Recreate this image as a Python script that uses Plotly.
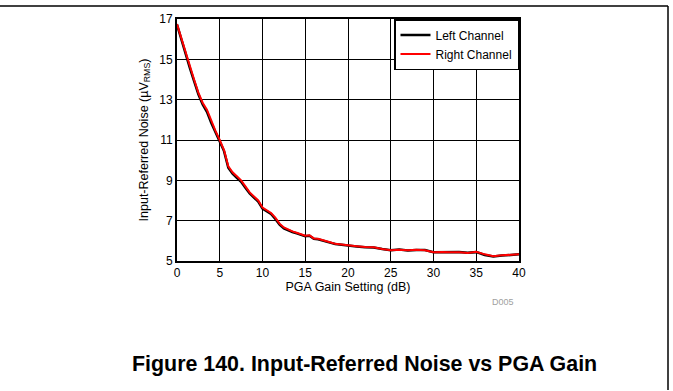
import plotly.graph_objects as go

# PGA gain setting (dB)
gain_db = [0, 0.5, 1, 1.5, 2, 2.5, 3, 3.5, 4, 4.5, 5, 5.5, 6, 6.5, 7, 7.5, 8, 8.5, 9, 9.5,
           10, 10.5, 11, 11.5, 12, 12.5, 13, 13.5, 14, 14.5, 15, 15.5, 16, 16.5, 17, 17.5,
           18, 18.5, 19, 19.5, 20, 21, 22, 23, 24, 25, 26, 27, 28, 29, 30, 31, 32, 33, 34,
           35, 36, 37, 38, 39, 40]

# Input-referred noise (uVrms)
right_channel = [16.75, 16.05, 15.3, 14.65, 14.0, 13.35, 12.85, 12.5, 11.95, 11.45, 11.0, 10.5,
                 9.7, 9.4, 9.2, 9.0, 8.7, 8.4, 8.2, 8.0, 7.65, 7.5, 7.38, 7.15, 6.85, 6.66,
                 6.55, 6.47, 6.4, 6.32, 6.25, 6.28, 6.12, 6.1, 6.05, 6.0, 5.92, 5.85, 5.82,
                 5.8, 5.76, 5.73, 5.69, 5.68, 5.6, 5.53, 5.56, 5.53, 5.56, 5.53, 5.43, 5.45,
                 5.43, 5.44, 5.4, 5.46, 5.33, 5.24, 5.28, 5.32, 5.33]
left_channel = [16.72, 15.98, 15.22, 14.58, 13.92, 13.27, 12.76, 12.4, 11.86, 11.38, 10.95, 10.45,
                9.62, 9.33, 9.12, 8.93, 8.63, 8.35, 8.15, 7.95, 7.6, 7.45, 7.33, 7.08, 6.8,
                6.62, 6.52, 6.44, 6.37, 6.3, 6.23, 6.25, 6.1, 6.08, 6.03, 5.98, 5.9, 5.84,
                5.81, 5.79, 5.75, 5.72, 5.68, 5.67, 5.59, 5.53, 5.57, 5.52, 5.55, 5.54, 5.44,
                5.44, 5.43, 5.45, 5.41, 5.44, 5.3, 5.22, 5.27, 5.31, 5.33]

x_ticks = [0, 5, 10, 15, 20, 25, 30, 35, 40]
y_ticks = [5, 7, 9, 11, 13, 15, 17]

W, H = 673, 391
ML, MR, MT, MB = 177, 154, 17, 130
PW, PH = W - ML - MR, H - MT - MB

def px_x(p):
    return (p - ML) / PW

def px_y(p):
    return (H - MB - p) / PH

FONT = "Liberation Sans, Arial, sans-serif"

fig = go.Figure()
fig.add_trace(go.Scatter(x=gain_db, y=left_channel, mode="lines", name="Left Channel",
                         line=dict(color="black", width=2.5)))
fig.add_trace(go.Scatter(x=gain_db, y=right_channel, mode="lines", name="Right Channel",
                         line=dict(color="#ff0000", width=2)))

fig.update_layout(
    width=W, height=H,
    margin=dict(l=ML, r=MR, t=MT, b=MB),
    paper_bgcolor="white", plot_bgcolor="white",
    font=dict(family=FONT, size=12, color="black"),
    showlegend=True,
    legend=dict(x=1, xanchor="right", y=1, yanchor="top",
                bordercolor="black", borderwidth=1.5, bgcolor="white",
                font=dict(size=12), tracegroupgap=0, itemwidth=30),
    xaxis=dict(range=[0, 40], tickvals=x_ticks, ticktext=[str(v) for v in x_ticks],
               tickfont=dict(size=12),
               showgrid=True, gridcolor="black", gridwidth=1,
               showline=True, linecolor="black", linewidth=2, mirror=True,
               ticks="", zeroline=False,
               title=dict(text="PGA Gain Setting (dB)", standoff=2, font=dict(size=12.5))),
    yaxis=dict(range=[5, 17], tickvals=y_ticks, ticktext=[str(v) for v in y_ticks],
               tickfont=dict(size=12),
               showgrid=True, gridcolor="black", gridwidth=1,
               showline=True, linecolor="black", linewidth=2, mirror=True,
               ticks="", zeroline=False,
               title=dict(text="Input-Referred Noise (µV<sub>RMS</sub>)", standoff=8,
                          font=dict(size=12.5))),
)

fig.add_annotation(text="D005", xref="paper", yref="paper", x=px_x(516), y=px_y(302),
                   xanchor="right", yanchor="middle", showarrow=False,
                   font=dict(size=9, color="#a0a0a0", family=FONT))
fig.add_annotation(text="<b>Figure 140. Input-Referred Noise vs PGA Gain</b>",
                   xref="paper", yref="paper", x=px_x(364), y=px_y(365),
                   xanchor="center", yanchor="middle", showarrow=False,
                   font=dict(size=21.4, color="black", family=FONT))

# outer frame: top and right edges
fig.add_shape(type="line", xref="paper", yref="paper",
              x0=px_x(0), x1=px_x(668), y0=px_y(4), y1=px_y(4),
              line=dict(color="black", width=1.5))
fig.add_shape(type="line", xref="paper", yref="paper",
              x0=px_x(668), x1=px_x(668), y0=px_y(4), y1=px_y(391),
              line=dict(color="black", width=1.5))

fig.write_html("out.html", config={"displayModeBar": False},
               post_script="document.body.style.margin='0';document.body.style.overflow='hidden';")
